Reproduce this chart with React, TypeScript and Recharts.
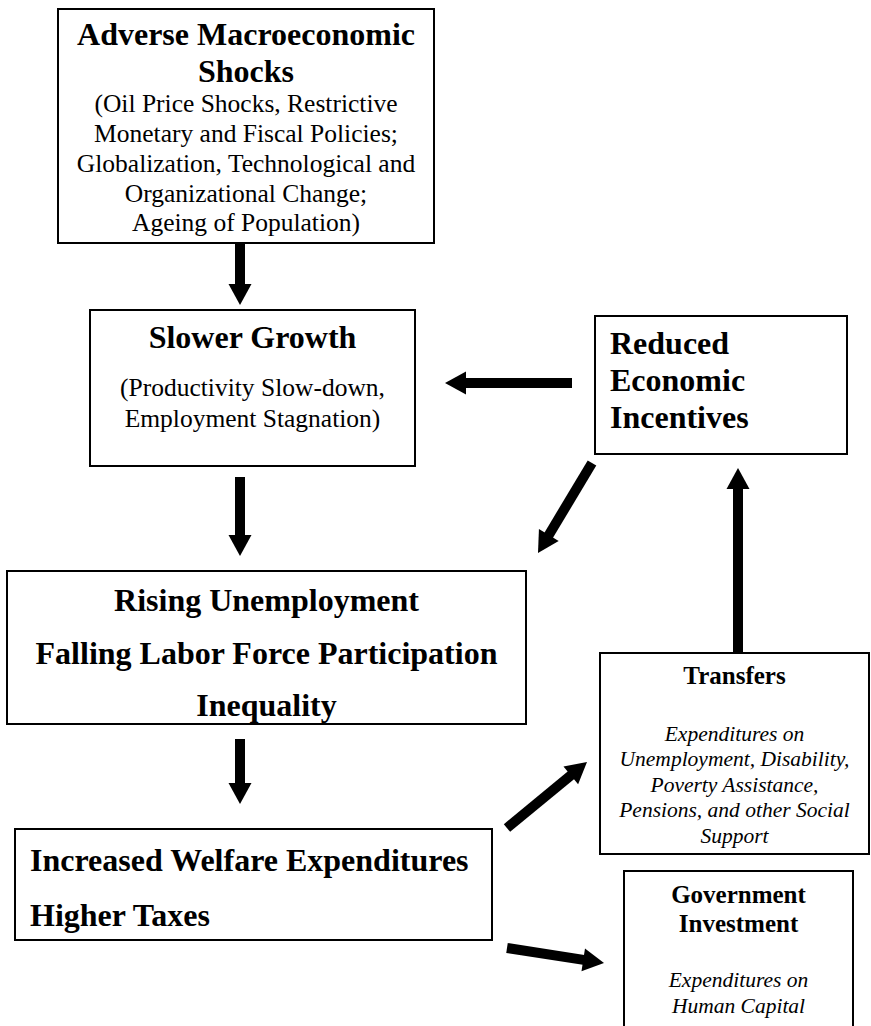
import React from 'react';
import { ComposedChart, XAxis, YAxis, ReferenceArea, ReferenceLine, ReferenceDot } from 'recharts';

const W = 871;
const H = 1026;

// diagram content
const nodeIds = ['shocks', 'slower', 'reduced', 'rising', 'welfare', 'transfers', 'investment'];

const nodeHeadings = [
  ['Adverse Macroeconomic', 'Shocks'],
  ['Slower Growth'],
  ['Reduced', 'Economic', 'Incentives'],
  ['Rising Unemployment', 'Falling Labor Force Participation', 'Inequality'],
  ['Increased Welfare Expenditures', 'Higher Taxes'],
  ['Transfers'],
  ['Government', 'Investment'],
];

const nodeNotes = [
  [
    '(Oil Price Shocks, Restrictive',
    'Monetary and Fiscal Policies;',
    'Globalization, Technological and',
    'Organizational Change;',
    'Ageing of Population)',
  ],
  ['(Productivity Slow-down,', 'Employment Stagnation)'],
  [],
  [],
  [],
  ['Expenditures on', 'Unemployment, Disability,', 'Poverty Assistance,', 'Pensions, and other Social', 'Support'],
  ['Expenditures on', 'Human Capital'],
];

const arrowLinks = [
  ['shocks', 'slower'],
  ['slower', 'rising'],
  ['reduced', 'slower'],
  ['reduced', 'rising'],
  ['rising', 'welfare'],
  ['welfare', 'transfers'],
  ['welfare', 'investment'],
  ['transfers', 'reduced'],
];

// layout (diagram units, y downwards)
const boxLayout: Record<string, any> = {
  shocks: { x1: 58, x2: 434, y1: 9, y2: 243, anchor: 'middle', head: 32, headY: [45, 82], note: 25.5, noteY: [112, 142, 172, 202, 231], italic: false },
  slower: { x1: 90, x2: 415, y1: 310, y2: 466, anchor: 'middle', head: 32, headY: [348], note: 25.5, noteY: [396, 427], italic: false },
  reduced: { x1: 595, x2: 847, y1: 316, y2: 454, anchor: 'start', pad: 15, head: 32, headY: [354, 391, 428] },
  rising: { x1: 7, x2: 526, y1: 571, y2: 724, anchor: 'middle', head: 32, headY: [611, 664, 716] },
  welfare: { x1: 15, x2: 492, y1: 829, y2: 940, anchor: 'start', pad: 15, head: 32, headY: [871, 926] },
  transfers: { x1: 600, x2: 869, y1: 653, y2: 854, anchor: 'middle', head: 25, headY: [684], note: 21.5, noteY: [741, 766, 792, 817, 843], italic: true },
  investment: { x1: 624, x2: 853, y1: 871, y2: 1040, anchor: 'middle', head: 25, headY: [903, 932], note: 21.5, noteY: [987, 1013], italic: true },
};

const arrowPaths = [
  { from: [240, 243], to: [240, 305] },
  { from: [240, 477], to: [240, 556] },
  { from: [572, 383], to: [445, 383] },
  { from: [592, 463], to: [538, 553] },
  { from: [240, 739], to: [240, 804] },
  { from: [507, 828], to: [587, 762] },
  { from: [507, 948], to: [604, 963] },
  { from: [738, 652], to: [738, 468] },
];

const FONT = "'Liberation Serif', 'Times New Roman', Times, serif";
const HEAD_LEN = 21;
const HEAD_W = 23;
const SHAFT = 10;

const makeBox = (idx: number) => (p: any) => {
  const lay = boxLayout[nodeIds[idx]];
  const tx = lay.anchor === 'middle' ? p.x + p.width / 2 : p.x + lay.pad;
  return (
    <g>
      <rect x={p.x} y={p.y} width={p.width} height={p.height} fill="#fff" stroke="#000" strokeWidth={2} />
      {nodeHeadings[idx].map((t, i) => (
        <text key={'h' + i} x={tx} y={p.y + lay.headY[i] - lay.y1} textAnchor={lay.anchor}
          style={{ fontFamily: FONT, fontWeight: 700, fontSize: lay.head }} fill="#000">{t}</text>
      ))}
      {nodeNotes[idx].map((t, i) => (
        <text key={'n' + i} x={tx} y={p.y + lay.noteY[i] - lay.y1} textAnchor={lay.anchor}
          style={{ fontFamily: FONT, fontStyle: lay.italic ? 'italic' : 'normal', fontSize: lay.note }} fill="#000">{t}</text>
      ))}
    </g>
  );
};

const makeHead = (ux: number, uy: number) => (p: any) => {
  const bx = p.cx - ux * HEAD_LEN;
  const by = p.cy - uy * HEAD_LEN;
  const nx = -uy * HEAD_W / 2;
  const ny = ux * HEAD_W / 2;
  return <polygon points={`${p.cx},${p.cy} ${bx + nx},${by + ny} ${bx - nx},${by - ny}`} fill="#000" />;
};

export default function App() {
  return (
    <div style={{ position: 'absolute', left: 0, top: 0, width: W, height: H, background: '#fff', fontFamily: FONT }}>
      <ComposedChart width={W} height={H} margin={{ top: 0, right: 0, bottom: 0, left: 0 }}>
        <XAxis type="number" dataKey="x" domain={[0, W]} allowDataOverflow hide />
        <YAxis type="number" dataKey="y" domain={[0, H]} allowDataOverflow reversed hide />
        {nodeIds.map((id, i) => {
          const lay = boxLayout[id];
          return (
            <ReferenceArea key={id} x1={lay.x1} x2={lay.x2} y1={lay.y1} y2={lay.y2}
              ifOverflow="visible" shape={makeBox(i)} />
          );
        })}
        {arrowLinks.map((link, i) => {
          const a = arrowPaths[i];
          const dx = a.to[0] - a.from[0];
          const dy = a.to[1] - a.from[1];
          const len = Math.hypot(dx, dy);
          const ux = dx / len;
          const uy = dy / len;
          const end = { x: a.to[0] - ux * (HEAD_LEN - 2), y: a.to[1] - uy * (HEAD_LEN - 2) };
          return (
            <React.Fragment key={link.join('-')}>
              <ReferenceLine segment={[{ x: a.from[0], y: a.from[1] }, end]} stroke="#000" strokeWidth={SHAFT} />
              <ReferenceDot x={a.to[0]} y={a.to[1]} r={1} shape={makeHead(ux, uy)} />
            </React.Fragment>
          );
        })}
      </ComposedChart>
    </div>
  );
}
